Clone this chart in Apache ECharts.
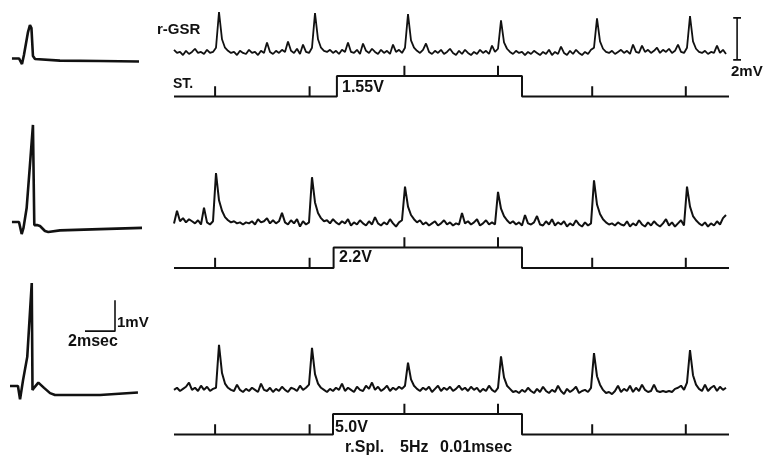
<!DOCTYPE html>
<html><head><meta charset="utf-8">
<script src="https://cdn.jsdelivr.net/npm/echarts@6/dist/echarts.min.js"></script>
<style>html,body{margin:0;padding:0;background:#fff}#c{width:765px;height:459px}</style>
</head><body><div id="c"></div>
<script>
// r-GSR traces (mV above baseline), one sample per time step
const gsr1 = [
0.2,0.05,0.1,-0.05,0.15,0.0,0.1,0.25,0.05,0.1,
0.0,0.2,0.05,0.1,0.3,2.0,0.7,0.3,0.15,0.05,
0.1,-0.05,0.15,0.05,0.0,0.2,0.05,0.1,-0.05,0.15,
0.05,0.55,0.1,0.0,0.15,0.05,0.2,0.1,0.6,0.15,
0.05,0.25,0.0,0.45,0.1,0.05,0.3,1.95,0.7,0.3,
0.15,0.1,0.2,0.05,0.15,0.0,0.2,0.1,0.55,0.1,
0.05,0.2,0.0,0.5,0.15,0.05,0.25,0.1,0.0,0.2,
0.05,0.15,0.0,0.45,0.1,0.2,0.05,0.3,1.9,0.65,
0.3,0.15,0.05,0.2,0.5,0.1,0.0,0.15,0.05,0.2,
0.0,0.1,0.25,0.05,-0.05,0.15,0.0,0.2,0.05,-0.05,
0.1,0.0,0.2,0.05,0.15,0.0,0.4,0.1,0.25,1.6,
0.55,0.25,0.1,0.0,0.15,0.05,0.1,-0.05,0.1,0.0,
0.15,0.05,-0.05,0.1,0.0,0.2,-0.05,0.1,0.0,0.35,
0.05,-0.05,0.15,0.0,0.2,0.05,-0.05,0.1,0.0,0.2,
0.3,1.7,0.6,0.25,0.1,0.05,0.15,0.0,0.1,0.2,
0.05,0.15,0.0,0.45,0.1,0.05,0.4,0.1,0.2,0.05,
0.15,0.3,0.05,0.2,0.1,0.25,0.05,0.15,0.45,0.1,
0.05,0.3,1.8,0.6,0.25,0.1,0.05,0.15,0.0,0.1,
0.05,0.4,0.05,0.2,0.0];
const gsr2 = [
0.1,0.7,0.2,0.35,0.15,0.3,0.2,0.1,0.25,0.05,
0.85,0.15,0.05,0.2,2.5,1.2,0.7,0.4,0.25,0.15,
0.2,0.1,0.15,0.05,0.15,0.1,0.2,0.05,0.3,0.15,
0.2,0.35,0.1,0.25,0.1,0.2,0.6,0.15,0.05,0.25,
0.1,0.3,-0.05,0.2,0.05,0.15,2.3,1.1,0.6,0.35,
0.2,0.25,0.1,0.3,0.15,0.05,0.2,0.1,0.3,0.0,
0.15,0.05,0.25,0.1,0.0,0.2,0.05,0.4,0.1,0.0,
0.15,0.05,0.3,0.1,-0.05,0.15,0.25,1.85,0.9,0.5,
0.3,0.15,0.25,0.05,0.15,0.0,0.1,0.2,0.0,0.1,
0.25,0.05,0.15,0.0,0.1,0.05,0.6,0.1,0.2,0.05,
0.15,0.3,0.0,0.1,0.25,0.05,0.15,0.05,1.6,0.8,
0.45,0.25,0.1,0.2,0.05,0.15,0.0,0.5,0.1,0.05,
0.15,0.45,0.05,0.0,0.2,0.05,0.3,0.0,0.15,0.05,
0.2,-0.05,0.1,0.0,0.25,0.05,-0.05,0.15,0.0,0.1,
2.15,1.0,0.55,0.3,0.15,0.05,0.1,0.0,0.15,0.05,
0.0,0.2,-0.05,0.1,0.0,0.25,0.05,-0.05,0.15,0.0,
0.2,0.05,-0.05,0.1,0.3,0.0,0.15,-0.05,0.1,0.25,
0.0,1.85,0.9,0.45,0.25,0.1,0.0,0.15,-0.05,0.1,
0.0,0.2,0.05,0.35,0.5];
const gsr3 = [
0.1,0.2,0.05,0.15,0.25,0.45,0.1,0.2,0.05,0.3,
0.1,0.25,0.05,0.15,0.2,2.25,0.9,0.4,0.2,0.1,
0.05,0.35,0.1,0.0,0.15,0.05,0.2,0.1,0.0,0.4,
0.1,0.05,0.2,0.0,0.15,0.05,0.25,0.1,0.0,0.2,
0.15,0.05,0.3,0.1,0.2,0.35,2.1,0.85,0.4,0.2,
0.1,0.0,0.15,0.05,0.2,0.1,0.4,0.05,0.2,0.1,
0.0,0.25,0.1,0.05,0.3,0.15,0.45,0.1,0.25,0.05,
0.15,0.3,0.05,0.2,0.1,0.25,0.15,0.3,1.4,0.6,
0.3,0.15,0.05,0.2,0.1,0.25,0.0,0.15,0.3,0.05,
0.2,0.1,0.25,0.05,0.15,0.3,0.1,0.2,0.05,0.25,
0.1,0.2,0.0,0.15,0.05,0.3,0.1,0.0,0.2,1.7,
0.7,0.3,0.15,0.0,0.05,-0.05,0.1,0.0,0.2,0.05,
-0.05,0.15,0.0,0.25,0.05,-0.05,0.1,0.0,0.3,0.05,
-0.1,0.15,0.0,0.1,0.25,-0.05,0.05,0.1,0.0,0.2,
1.85,0.75,0.35,0.1,-0.05,0.0,-0.1,0.05,0.3,0.0,
0.15,0.05,0.3,0.0,0.2,0.05,0.35,0.1,0.0,0.05,
0.35,0.05,0.0,0.05,0.0,0.05,0.0,0.15,0.2,0.3,
0.1,0.45,2.0,0.8,0.35,0.15,0.05,0.35,0.05,0.2,
0.3,0.05,0.25,0.1,0.2];

// stimulus (ST) line: time-marker ticks, stimulus on/off, levels
const stTicks = [13.7, 45.2, 76.8, 108, 139.4, 170.6];
const stOn = [54.3, 53.2, 53.0];
const stOff = 116;
const stEnd = 185;
const stLabels = ['1.55V', '2.2V', '5.0V'];

// single action potentials: [ms, mV]
const ap1 = [[0.13,0.05],[0.6,0.05],[0.8,-0.13],[0.93,0.16],[1.2,0.9],[1.33,1.13],[1.43,1.03],[1.53,0.13],[1.67,0.03],[3.33,-0.02],[6.0,-0.03],[8.6,-0.05]];
const ap2 = [[0.13,0],[0.6,0],[0.78,-0.39],[0.9,-0.19],[1.11,0.45],[1.33,1.84],[1.53,3.13],[1.62,-0.1],[1.8,-0.1],[2.0,-0.13],[2.33,-0.29],[2.55,-0.32],[3.33,-0.27],[6.0,-0.23],[8.8,-0.19]];
const ap3 = [[0,0],[0.53,0],[0.67,-0.43],[0.87,0.19],[1.15,0.94],[1.45,3.32],[1.5,-0.13],[1.6,-0.06],[1.89,0.11],[2.27,-0.06],[2.67,-0.23],[3.0,-0.29],[6.0,-0.29],[8.53,-0.21]];

// calibration bars
const apScale = [[5,1.77],[7,1.77],[7,2.77]]; // 2 msec, 1 mV
const gsrScaleX = 187.7, gsrScaleY = [-0.28, 1.72]; // 2 mV

function buildST(on){
  const ev = stTicks.map(t=>({t,type:'tick'})).concat([{t:on,type:'on'},{t:stOff,type:'off'}]).sort((a,b)=>a.t-b.t);
  let lvl = 0; const pts = [[0,0]];
  ev.forEach(e=>{
    if(e.type==='tick'){pts.push([e.t,lvl],[e.t,lvl+0.5],[e.t,lvl]);}
    else if(e.type==='on'){pts.push([e.t,0],[e.t,1]);lvl=1;}
    else {pts.push([e.t,1],[e.t,0]);lvl=0;}
  });
  pts.push([stEnd,0]);
  return pts;
}
const idx = arr => arr.map((v,i)=>[i,v]);

const grids = [
  {left:10,width:135,top:13.5,height:62},
  {left:10,width:135,top:116.6,height:124},
  {left:10,width:135,top:277.5,height:127.1},
  {left:174,width:570,top:3.6,height:63},
  {left:174,width:552,top:166.7,height:71.4},
  {left:174,width:552,top:337.4,height:67.2},
  {left:174,width:555,top:63.7,height:36.9},
  {left:174,width:555,top:235.2,height:36.9},
  {left:174,width:555,top:401.7,height:36.9}
];
const xr = [[0,9],[0,9],[0,9],[0,190],[0,184],[0,184],[0,185],[0,185],[0,185]];
const yr = [[-0.5,1.5],[-0.6,3.4],[-0.6,3.5],[-0.6,2.4],[-0.6,2.8],[-0.6,2.6],[-0.2,1.6],[-0.2,1.6],[-0.2,1.6]];
const ink = '#111';
function ser(g, data, w){
  return {type:'line',xAxisIndex:g,yAxisIndex:g,data,showSymbol:false,symbol:'none',
    lineStyle:{color:ink,width:w},silent:true,animation:false};
}
const series = [
  ser(0, ap1, 2.6), ser(1, ap2, 2.6), ser(2, ap3, 2.6),
  ser(2, apScale, 1.6),
  ser(3, idx(gsr1), 1.8), ser(4, idx(gsr2), 2), ser(5, idx(gsr3), 2),
  ser(3, [[gsrScaleX-1.3,gsrScaleY[1]],[gsrScaleX+1.3,gsrScaleY[1]],[gsrScaleX,gsrScaleY[1]],[gsrScaleX,gsrScaleY[0]],[gsrScaleX-1.3,gsrScaleY[0]],[gsrScaleX+1.3,gsrScaleY[0]]], 1.6),
  ser(6, buildST(stOn[0]), 2), ser(7, buildST(stOn[1]), 2), ser(8, buildST(stOn[2]), 2)
];
const font = 'Liberation Sans';
function txt(s, l, t, size, weight){
  return {type:'text',left:l,top:t,style:{text:s,fill:ink,font:(weight||'bold')+' '+size+'px "'+font+'"'}};
}
const option = {
  backgroundColor:'#fff',
  animation:false,
  grid: grids,
  xAxis: xr.map((r,i)=>({type:'value',gridIndex:i,min:r[0],max:r[1],show:false})),
  yAxis: yr.map((r,i)=>({type:'value',gridIndex:i,min:r[0],max:r[1],show:false})),
  series,
  graphic: [
    txt('r-GSR',157,22,15),
    txt('ST.',173,77,14),
    txt(stLabels[0],342,80,16),
    txt(stLabels[1],339,250,16),
    txt(stLabels[2],335,420,16),
    txt('r.Spl.',345,440,16),
    txt('5Hz',400,440,16),
    txt('0.01msec',440,440,16),
    txt('2mV',731,64,15),
    txt('1mV',117,315,15),
    txt('2msec',68,334,16)
  ]
};
echarts.init(document.getElementById('c'),null,{renderer:'canvas'}).setOption(option);
</script></body></html>
